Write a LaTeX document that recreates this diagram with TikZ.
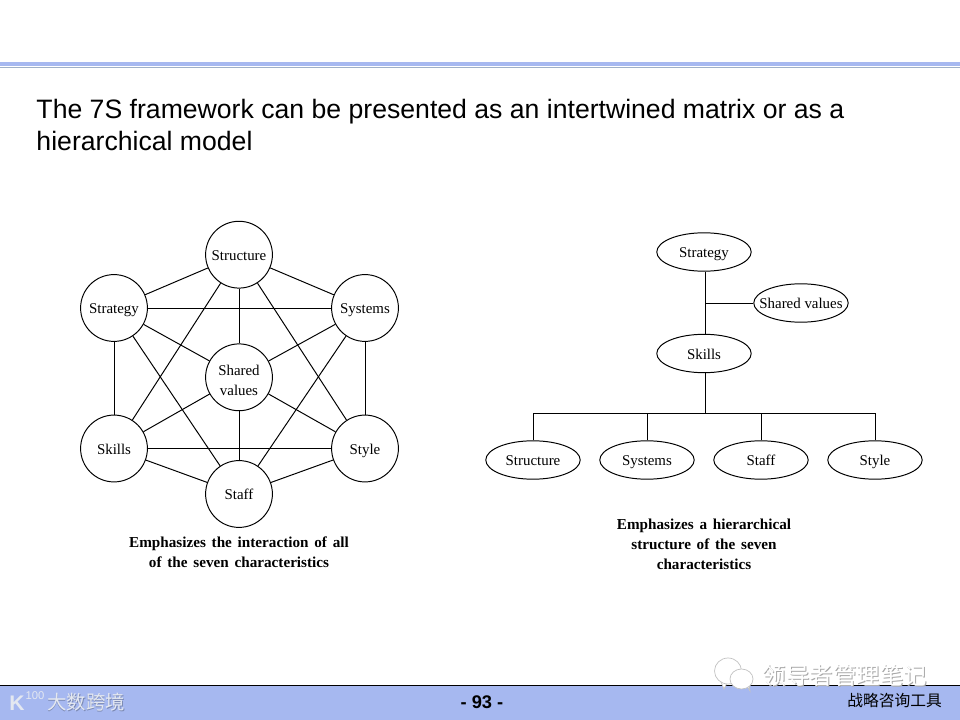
\documentclass[tikz,border=0pt]{standalone}
\usepackage{fontspec}
\setmainfont{Liberation Serif}
\newfontfamily\arialfont{Liberation Sans}
\newfontfamily\cjkfont{Noto Sans CJK SC}
\usetikzlibrary{shapes.geometric}
\definecolor{bandblue}{HTML}{A6B8F0}
\definecolor{rulegrey}{HTML}{9FB0C8}
\definecolor{markgrey}{HTML}{E4E8F0}
\definecolor{shadegrey}{HTML}{A8A8A8}
\newcommand{\widewords}{\spaceskip 0.38em\relax}
\begin{document}
\begin{tikzpicture}[
  x=0.025cm, y=-0.025cm, line width=0.7pt,
  disc/.style={draw, circle, fill=white, minimum size=1.67cm, inner sep=0pt, align=center, font=\fontsize{10.6}{14.2}\selectfont},
  ball/.style={disc, text height=8.5pt, text depth=0.5pt},
  oval/.style={draw, ellipse, fill=white, minimum width=2.36cm, minimum height=0.96cm, inner xsep=-8pt, inner ysep=0pt, text height=8.5pt, text depth=0.5pt, font=\fontsize{10.6}{12}\selectfont},
  remark/.style={align=center, font=\fontsize{10.8}{14.2}\selectfont\bfseries\widewords},
  band/.style={fill=bandblue, draw=none},
  stamp/.style={text=markgrey, font=\fontsize{13.8}{14}\cjkfont},
  bubble/.style={draw=shadegrey!70, fill=white, line width=0.5pt}
]
\useasboundingbox (0,0) rectangle (960,720);
\fill[white] (0,0) rectangle (960,720);

% header and footer
\fill[band] (0,62) rectangle (960,66.5);
\draw[rulegrey, line width=0.5pt] (0,67.7) -- (960,67.7);
\fill[band] (0,686) rectangle (960,720);
\draw (0,685.5) -- (960,685.5);
\node[anchor=north west, align=left, inner sep=0pt, font=\fontsize{18.93}{22.8}\arialfont] (title) at (36,99)
  {The 7S framework can be presented as an intertwined matrix or as a\\hierarchical model};
\node[font=\fontsize{13}{13}\arialfont\bfseries] (page) at (482,702) {- 93 -};
\node[font=\fontsize{11.2}{11.2}\cjkfont] (tool) at (894.5,701) {战略咨询工具};
\node[stamp, text=bandblue!75!black] (brandshade) at (86.8,702.8) {大数跨境};
\node[stamp] (brand) at (86,702) {大数跨境};
\node[stamp, font=\fontsize{15}{15}\arialfont\bfseries] (logok) at (17,703) {K};
\node[stamp, font=\fontsize{8}{8}\arialfont] (logonum) at (35,695.5) {100};

% chat icon
\draw[bubble] (721,682) -- (724,689) -- (727,683);
\draw[bubble] (728,671) ellipse (13.5 and 13);
\draw[bubble] (747,686) -- (750,691) -- (749,684);
\draw[bubble] (741.5,679) ellipse (11.5 and 10);
\node[text=shadegrey, font=\fontsize{16.7}{16.7}\cjkfont] (shade) at (846,677) {领导者管理笔记};
\node[text=white, font=\fontsize{16.7}{16.7}\cjkfont] (account) at (845,676) {领导者管理笔记};

% matrix model
\node[ball] (structure) at (239,254.7) {Structure};
\node[ball] (strategy) at (114,308) {Strategy};
\node[ball] (systems) at (365,308) {Systems};
\node[disc] (shared) at (239,377.3) {\rule{0pt}{12.4pt}Shared\\values};
\node[ball] (skills) at (114,448.5) {Skills};
\node[ball] (style) at (365,448.5) {Style};
\node[ball] (staff) at (239,494) {Staff};
\foreach \a/\b in {structure/strategy, structure/systems, structure/shared, structure/skills, structure/style,
    strategy/systems, strategy/shared, strategy/skills, strategy/staff,
    systems/shared, systems/style, systems/staff,
    shared/skills, shared/style, shared/staff,
    skills/style, skills/staff, style/staff}
  \draw (\a) -- (\b);
\node[remark] (matrixnote) at (239,552) {Emphasizes the interaction of all\\of the seven characteristics};

% hierarchical model
\node[oval] (top) at (704,252) {Strategy};
\node[oval] (values) at (801,303) {Shared values};
\node[oval] (middle) at (704,353.5) {Skills};
\node[oval] (lowa) at (533,460) {Structure};
\node[oval] (lowb) at (647,460) {Systems};
\node[oval] (lowc) at (761,460) {Staff};
\node[oval] (lowd) at (875,460) {Style};
\coordinate (bus) at (705,413);
\draw (top.south -| bus) -- (middle.north -| bus);
\draw (values.west) -- (values.west -| bus);
\draw (middle.south -| bus) -- (bus);
\draw (lowa.north) |- (bus);
\draw (lowd.north) |- (bus);
\draw (lowb.north) -- (lowb.north |- bus);
\draw (lowc.north) -- (lowc.north |- bus);
\node[remark] (hiernote) at (704,544.5) {Emphasizes a hierarchical\\structure of the seven\\characteristics};
\end{tikzpicture}
\end{document}
